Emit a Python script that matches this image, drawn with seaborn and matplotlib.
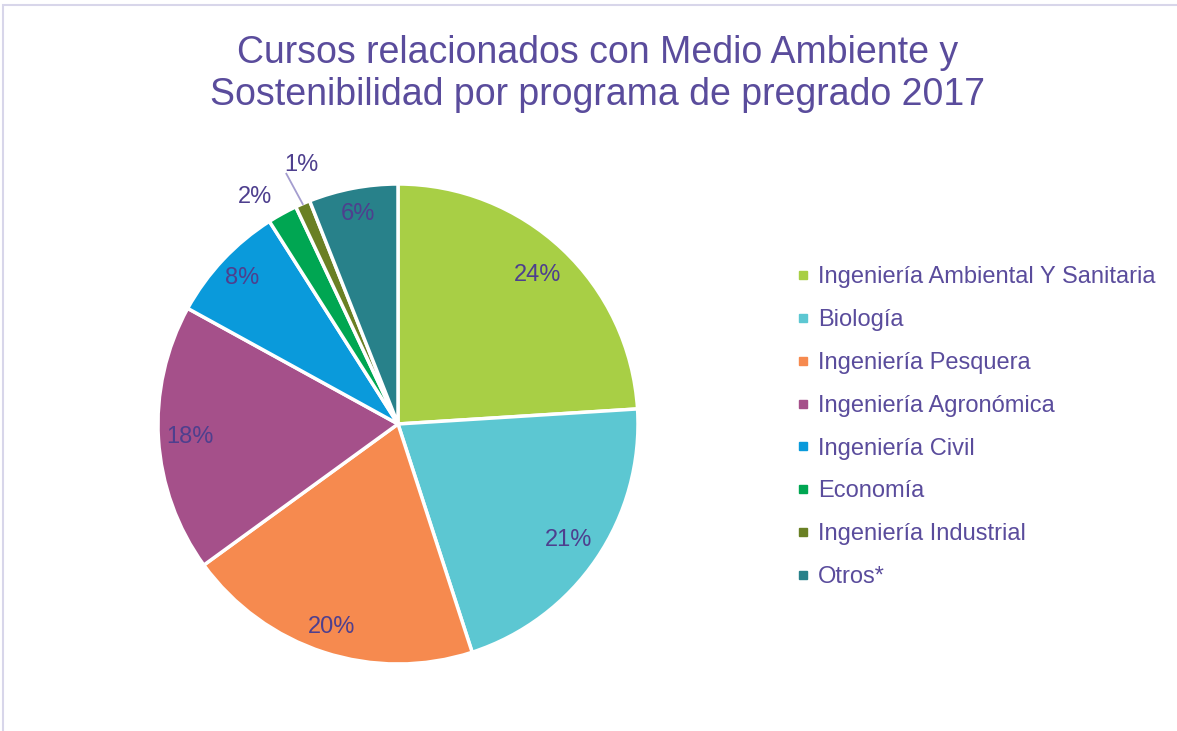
import numpy as np
import matplotlib
matplotlib.use("Agg")
import matplotlib.pyplot as plt
import matplotlib.patches as mpatches
from matplotlib.lines import Line2D
import seaborn as sns

# Course share by undergraduate program
programs = [
    "Ingeniería Ambiental Y Sanitaria",
    "Biología",
    "Ingeniería Pesquera",
    "Ingeniería Agronómica",
    "Ingeniería Civil",
    "Economía",
    "Ingeniería Industrial",
    "Otros*",
]
shares = [24, 21, 20, 18, 8, 2, 1, 6]
slice_colors = ["#A8CF45", "#5CC7D2", "#F68A4F", "#A5508A",
                "#0A9ADB", "#00A652", "#6A8024", "#28818A"]

sns.set_theme(style="white")
plt.rcParams["font.family"] = ["Liberation Sans", "DejaVu Sans"]

title_color = "#5A4C9C"
label_color = "#4E3F8E"

fig = plt.figure(figsize=(11.77, 7.31), dpi=100)
W, H = 1177, 731

# thin frame around the chart area
fig.patches.append(mpatches.Rectangle((3 / W, -0.05), 1.2, (731 - 5) / H + 0.05,
                                      transform=fig.transFigure, fill=False,
                                      edgecolor="#D8D6EA", linewidth=1.5))

cx, cy, r = 398, 424, 240
ax = fig.add_axes([(cx - r) / W, (H - cy - r) / H, 2 * r / W, 2 * r / H])

palette = sns.color_palette(slice_colors)
wedges, _ = ax.pie(shares, colors=palette, startangle=90, counterclock=False,
                   wedgeprops=dict(edgecolor="white", linewidth=2.5))
ax.set_xlim(-1, 1)
ax.set_ylim(-1, 1)
ax.set_aspect("equal")
ax.axis("off")

inside_dist = {0: 0.85, 1: 0.86, 2: 0.89, 3: 0.87, 4: 0.89, 7: 0.89}
for i, (w, v) in enumerate(zip(wedges, shares)):
    mid = np.deg2rad((w.theta1 + w.theta2) / 2)
    if i in inside_dist:
        d = inside_dist[i]
        ax.text(d * np.cos(mid), d * np.sin(mid), f"{v}%", ha="center",
                va="center", fontsize=17, color=label_color)

# small slices labelled outside the pie
ax.text(-0.596, 0.946, f"{shares[5]}%", ha="center", va="center",
        fontsize=17, color=label_color)

w = wedges[6]
mid = np.deg2rad((w.theta1 + w.theta2) / 2)
ax.plot([-0.467, 0.995 * np.cos(mid)], [1.046, 0.995 * np.sin(mid)],
        color="#A49DCF", lw=1.3, solid_capstyle="butt", clip_on=False)
ax.text(-0.404, 1.079, f"{shares[6]}%", ha="center", va="center",
        fontsize=17, color=label_color)

fig.text(598 / W, 1 - 74 / H,
         "Cursos relacionados con Medio Ambiente y\nSostenibilidad por programa de pregrado 2017",
         ha="center", va="center", fontsize=27, color=title_color,
         linespacing=1.2)

handles = [Line2D([0], [0], marker="s", linestyle="none", markersize=6,
                  markerfacecolor=c, markeredgecolor=c) for c in slice_colors]
fig.legend(handles, programs, loc="upper left",
           bbox_to_anchor=(786 / W, 1 - 257 / H), frameon=False,
           fontsize=17, labelspacing=0.88, handlelength=0.6,
           handletextpad=0.35, labelcolor=title_color, borderaxespad=0)

fig.savefig("out.png", dpi=100, facecolor="white")
